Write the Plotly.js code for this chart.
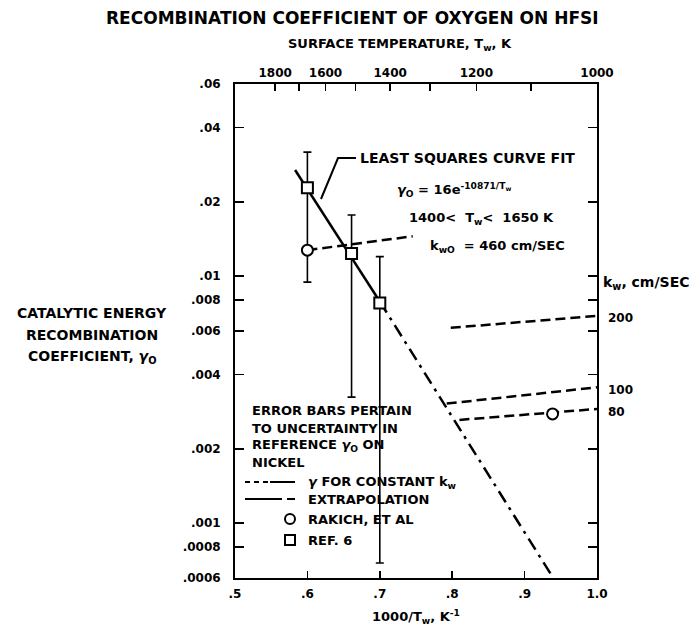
<!DOCTYPE html>
<html>
<head>
<meta charset="utf-8">
<script src="https://cdn.plot.ly/plotly-3.0.1.min.js"></script>
<style>html,body{margin:0;padding:0;background:#fff;}#chart{width:700px;height:633px;}</style>
</head>
<body>
<div id="chart"></div>
<script>
// ---- data ----
// least squares curve fit (solid) and its extrapolation (dash-dot), x = 1000/Tw
const fitX = [0.583, 0.700];
const fitY = [0.0269, 0.0079];
const extrapX = [0.700, 0.938];
const extrapY = [0.0079, 0.00061];
// Ref. 6 data (squares) with uncertainty bars
const refX = [0.600, 0.661, 0.700];
const refY = [0.0228, 0.01237, 0.00779];
const errTop = [0.0318, 0.0177, 0.0120];
const errBottom = [0.00946, 0.00324, 0.00069];
// Rakich et al (circles)
const rakX = [0.600, 0.9386];
const rakY = [0.01275, 0.00277];
// gamma for constant kw (dashed lines)
const kwO460X = [0.600, 0.7455];
const kwO460Y = [0.01275, 0.01451];
const kw200X = [0.798, 1.0];
const kw200Y = [0.00618, 0.00691];
const kw100X = [0.7924, 1.0];
const kw100Y = [0.00305, 0.00355];
const kw80X = [0.810, 1.0];
const kw80Y = [0.00262, 0.0029];
const kwLabels = ['200', '100', '80'];
// axes
const yTickVals = [0.0006, 0.0008, 0.001, 0.002, 0.004, 0.006, 0.008, 0.01, 0.02, 0.04, 0.06];
const yTickText = ['.0006', '.0008', '.001', '.002', '.004', '.006', '.008', '.01', '.02', '.04', '.06'];
const xTickVals = [0.5, 0.6, 0.7, 0.8, 0.9, 1.0];
const xTickText = ['.5', '.6', '.7', '.8', '.9', '1.0'];
const topTemps = [1800, 1700, 1600, 1500, 1400, 1300, 1200, 1100, 1000];
const topTempText = ['1800', '', '1600', '', '1400', '', '1200', '', '1000'];

const K = 'black';
const FONT = 'DejaVu Sans';
const dashKw = '10px,5px';

const traces = [
  {x: fitX, y: fitY, mode: 'lines', line: {color: K, width: 2.5}, hoverinfo: 'skip'},
  {x: extrapX, y: extrapY, mode: 'lines', line: {color: K, width: 2.5, dash: '13px,6px,3px,6px'}, hoverinfo: 'skip'},
  {x: kwO460X, y: kwO460Y, mode: 'lines', line: {color: K, width: 2.5, dash: dashKw}, hoverinfo: 'skip'},
  {x: kw200X, y: kw200Y, mode: 'lines', line: {color: K, width: 2.5, dash: dashKw}, hoverinfo: 'skip'},
  {x: kw100X, y: kw100Y, mode: 'lines', line: {color: K, width: 2.5, dash: dashKw}, hoverinfo: 'skip'},
  {x: kw80X, y: kw80Y, mode: 'lines', line: {color: K, width: 2.5, dash: dashKw}, hoverinfo: 'skip'},
  {x: refX, y: refY, mode: 'markers',
   marker: {symbol: 'square', size: 11, color: 'white', line: {color: K, width: 2}},
   error_y: {type: 'data', symmetric: false,
     array: errTop.map((v, i) => v - refY[i]),
     arrayminus: errBottom.map((v, i) => refY[i] - v),
     color: K, thickness: 1.6, width: 4}},
  {x: rakX, y: rakY, mode: 'markers',
   marker: {symbol: 'circle', size: 11, color: 'white', line: {color: K, width: 2}}},
  // carrier for the top temperature axis
  {x: [0.5, 1.0], y: [0.001, 0.001], xaxis: 'x2', mode: 'markers', marker: {opacity: 0}, hoverinfo: 'skip'}
];

// pixel -> paper helpers for annotation placement
const L = 235, R = 103, T = 84, B = 55, W = 700, H = 633;
const pw = W - L - R, ph = H - T - B;
const px = p => (p - L) / pw;
const py = p => (H - B - p) / ph;

function txt(text, x, y, size, opts) {
  return Object.assign({text: text, x: px(x), y: py(y), xref: 'paper', yref: 'paper',
    showarrow: false, xanchor: 'left', yanchor: 'middle',
    font: {family: FONT, size: size, color: K, weight: 'bold'}}, opts || {});
}

const G = '<i>γ</i>';
const annotations = [
  txt('RECOMBINATION COEFFICIENT OF OXYGEN ON HFSI', 352, 18, 17, {xanchor: 'center'}),
  txt('SURFACE TEMPERATURE, T<sub>w</sub>, K', 400, 45, 13, {xanchor: 'center'}),
  txt('1000/T<sub>w</sub>, K<sup>-1</sup>', 416, 617, 13, {xanchor: 'center'}),
  txt('CATALYTIC ENERGY', 92, 313, 14, {xanchor: 'center'}),
  txt('RECOMBINATION', 92, 335, 14, {xanchor: 'center'}),
  txt('COEFFICIENT, ' + G + '<sub>O</sub>', 92, 357, 14, {xanchor: 'center'}),
  txt('LEAST SQUARES CURVE FIT', 358, 158, 14),
  txt(G + '<sub>O</sub> = 16e<sup>-10871/T<sub>w</sub></sup>', 395, 190, 13),
  txt('1400&lt;  T<sub>w</sub>&lt;  1650 K', 407, 218, 13),
  txt('k<sub>w</sub><sub>O</sub>  = 460 cm/SEC', 428, 247, 13),
  txt('k<sub>w</sub>, cm/SEC', 601, 283, 14),
  txt(kwLabels[0], 606, 318, 12),
  txt(kwLabels[1], 606, 390, 12),
  txt(kwLabels[2], 606, 412, 12),
  txt('ERROR BARS PERTAIN', 250, 410, 13),
  txt('TO UNCERTAINTY IN', 250, 428, 13),
  txt('REFERENCE ' + G + '<sub>O</sub> ON', 250, 445, 13),
  txt('NICKEL', 250, 462, 13),
  txt(G + ' FOR CONSTANT k<sub>w</sub>', 306, 482, 13),
  txt('EXTRAPOLATION', 306, 499, 13),
  txt('RAKICH, ET AL', 306, 519, 13),
  txt('REF. 6', 306, 540, 13)
];

function seg(x0, y0, x1, y1, dash) {
  return {type: 'line', xref: 'paper', yref: 'paper', x0: px(x0), y0: py(y0), x1: px(x1), y1: py(y1),
    line: {color: K, width: 2, dash: dash || 'solid'}};
}
const shapes = [
  // leader for the curve-fit label
  {type: 'path', xref: 'paper', yref: 'paper',
   path: 'M ' + px(356) + ' ' + py(158) + ' L ' + px(338) + ' ' + py(158) + ' L ' + px(321) + ' ' + py(199),
   line: {color: K, width: 2}},
  // legend samples
  seg(245, 482, 270, 482, '5px,4px'),
  seg(270, 482, 295, 482),
  seg(245, 499, 282, 499),
  seg(287, 499, 295, 499),
  {type: 'circle', xref: 'paper', yref: 'paper', x0: px(285), x1: px(295), y0: py(524), y1: py(514), line: {color: K, width: 2}},
  {type: 'rect', xref: 'paper', yref: 'paper', x0: px(285), x1: px(295), y0: py(545), y1: py(535), line: {color: K, width: 2}}
];

const layout = {
  width: W, height: H,
  margin: {l: L, r: R, t: T, b: B},
  paper_bgcolor: 'white', plot_bgcolor: 'white',
  font: {family: FONT, size: 12, color: K, weight: 'bold'},
  showlegend: false,
  xaxis: {range: [0.5, 1.0], tickvals: xTickVals, ticktext: xTickText,
    ticks: 'inside', ticklen: 7, tickwidth: 1.5, tickcolor: K,
    showline: true, linewidth: 2, linecolor: K, mirror: true,
    showgrid: false, zeroline: false, ticklabelstandoff: 4,
    tickfont: {family: FONT, size: 12, color: K, weight: 'bold'}},
  xaxis2: {range: [0.5, 1.0], overlaying: 'x', side: 'top', anchor: 'y',
    tickvals: topTemps.map(t => 1000 / t), ticktext: topTempText,
    ticks: 'inside', ticklen: 7, tickwidth: 1.5, tickcolor: K,
    showline: false, showgrid: false, zeroline: false, ticklabelstandoff: 4,
    tickfont: {family: FONT, size: 12, color: K, weight: 'bold'}},
  yaxis: {type: 'log', range: [Math.log10(0.0006), Math.log10(0.06)],
    tickvals: yTickVals, ticktext: yTickText,
    ticks: 'inside', ticklen: 9, tickwidth: 1.5, tickcolor: K,
    showline: true, linewidth: 2, linecolor: K, mirror: 'ticks',
    showgrid: false, zeroline: false, ticklabelstandoff: 10,
    tickfont: {family: FONT, size: 12, color: K, weight: 'bold'}},
  annotations: annotations,
  shapes: shapes
};

Plotly.newPlot('chart', traces, layout, {displayModeBar: false, staticPlot: true});
</script>
</body>
</html>
